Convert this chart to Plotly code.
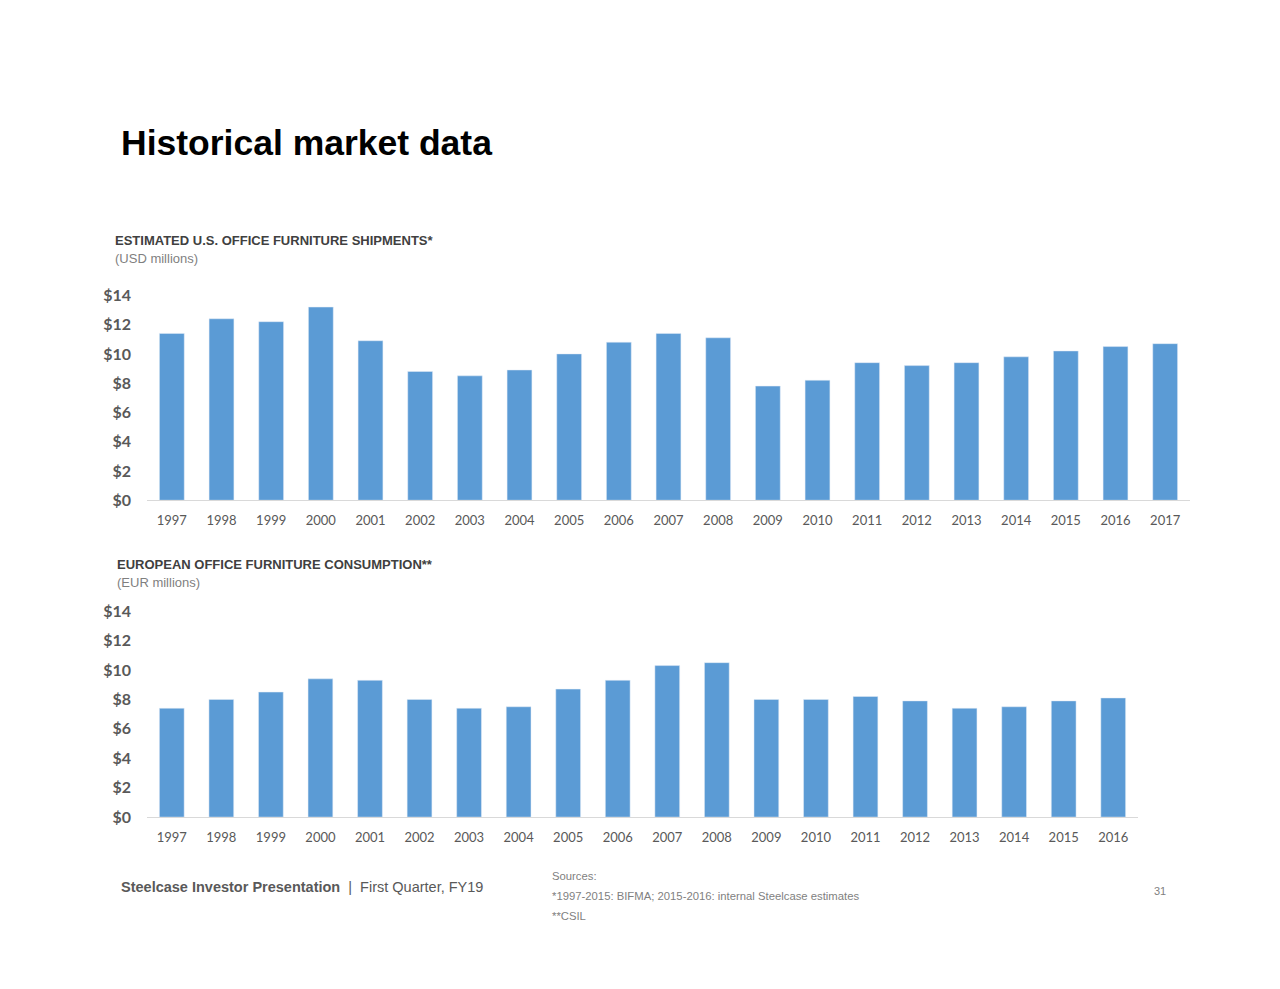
import plotly.graph_objects as go

# US shipments (shown as $ billions on the axis)
us_years = [str(y) for y in range(1997, 2018)]
us_values = [11.4, 12.4, 12.2, 13.2, 10.9, 8.8, 8.5, 8.9, 10.0, 10.8, 11.4,
             11.1, 7.8, 8.2, 9.4, 9.2, 9.4, 9.8, 10.2, 10.5, 10.7]

# European consumption
eu_years = [str(y) for y in range(1997, 2017)]
eu_values = [7.4, 8.0, 8.5, 9.4, 9.3, 8.0, 7.4, 7.5, 8.7, 9.3, 10.3,
             10.5, 8.0, 8.0, 8.2, 7.9, 7.4, 7.5, 7.9, 8.1]

y_ticks = [0, 2, 4, 6, 8, 10, 12, 14]
y_ticktext = [f'${v}' for v in y_ticks]

bar_color = '#5B9BD5'
text_gray = '#595959'
W, H = 1264, 973


def px_x(x):
    # page x -> paper fraction (page has an 8px margin)
    return (x - 8) / W


def px_y(y):
    # page y -> paper fraction (measured offset/scale of the rendered page)
    return 1 - ((y - 17.5) / 0.981) / H


fig = go.Figure()

fig.add_trace(go.Bar(x=us_years, y=us_values, marker_color=bar_color,
                     xaxis='x', yaxis='y', width=0.5,
                     hovertemplate='%{x}: $%{y:.1f}<extra></extra>'))
fig.add_trace(go.Bar(x=eu_years, y=eu_values, marker_color=bar_color,
                     xaxis='x2', yaxis='y2', width=0.5,
                     hovertemplate='%{x}: $%{y:.1f}<extra></extra>'))

axis_x = dict(showgrid=False, showline=True, linecolor='#D9D9D9', linewidth=1,
              ticks='', ticklabelstandoff=8,
              tickfont=dict(family='Lato', size=13, color=text_gray),
              fixedrange=True)
axis_y = dict(range=[0, 14], tickvals=y_ticks, ticktext=y_ticktext,
              showgrid=False, showline=False, zeroline=False, ticks='',
              ticklabelstandoff=15,
              tickfont=dict(family='Lato', size=16, color=text_gray, weight='bold'),
              fixedrange=True)

fig.update_layout(
    width=W, height=H,
    margin=dict(l=0, r=0, t=0, b=0),
    plot_bgcolor='white', paper_bgcolor='white',
    showlegend=False,
    xaxis=dict(axis_x, domain=[px_x(147), px_x(1190)], anchor='y'),
    yaxis=dict(axis_y, domain=[px_y(500), px_y(295)], anchor='x'),
    xaxis2=dict(axis_x, domain=[px_x(147), px_x(1138)], anchor='y2'),
    yaxis2=dict(axis_y, domain=[px_y(817), px_y(611)], anchor='x2'),
)

texts = [
    ('<b>Historical market data</b>', 119, 143, 35.5, 'black'),
    ('<b>ESTIMATED U.S. OFFICE FURNITURE SHIPMENTS*</b>', 113, 240, 13, '#404040'),
    ('(USD millions)', 113, 258, 13, '#7F7F7F'),
    ('<b>EUROPEAN OFFICE FURNITURE CONSUMPTION**</b>', 115, 564, 13, '#404040'),
    ('(EUR millions)', 115, 582, 13, '#7F7F7F'),
    ('<b>Steelcase Investor Presentation</b>  |  First Quarter, FY19', 119, 887, 14.5, text_gray),
    ('Sources:', 550, 876, 11.3, '#7F7F7F'),
    ('*1997-2015: BIFMA; 2015-2016: internal Steelcase estimates', 550, 896, 11.3, '#7F7F7F'),
    ('**CSIL', 550, 916, 11.3, '#7F7F7F'),
    ('31', 1152, 891, 11, '#7F7F7F'),
]
for t, x, y, size, color in texts:
    fig.add_annotation(text=t, x=px_x(x), y=px_y(y), xref='paper', yref='paper',
                       xanchor='left', yanchor='middle', showarrow=False,
                       font=dict(family='Liberation Sans', size=size, color=color))

fig.write_html("out.html")
